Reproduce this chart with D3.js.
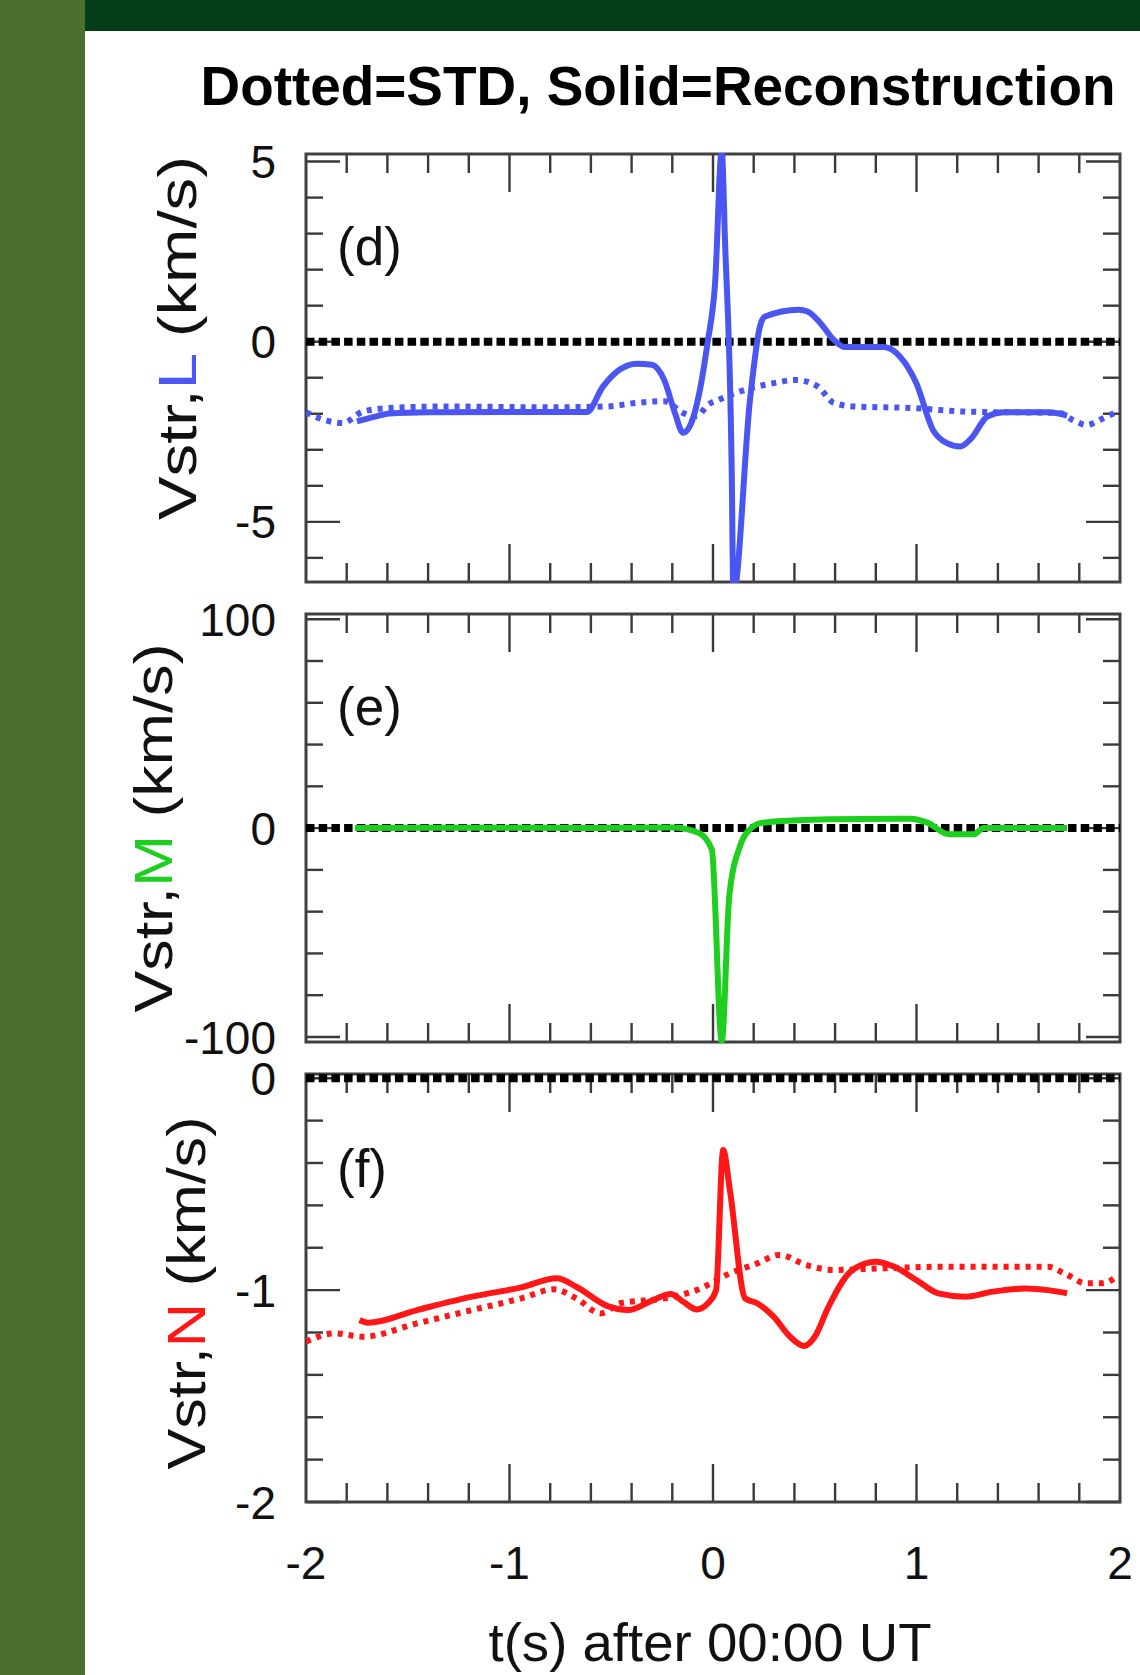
<!DOCTYPE html>
<html>
<head>
<meta charset="utf-8">
<script src="https://cdn.jsdelivr.net/npm/d3@7"></script>
<style>
  html, body { margin: 0; padding: 0; background: #ffffff; }
  svg { display: block; }
  text { font-family: "Liberation Sans", Arial, Helvetica, sans-serif; }
</style>
</head>
<body>
<svg id="chart" width="1140" height="1675"></svg>
<script>
// ---- data: time (s after 00:00 UT) and velocity samples ----
const timeTicksMajor = [-2, -1, 0, 1, 2];
const timeTickLabels = ["-2", "-1", "0", "1", "2"];

// Vstr,L (km/s): reconstruction (solid) and STD (dotted)
const vstrLRecon = [
  [-1.75, -2.21], [-1.66, -2.08], [-1.59, -1.99], [-1.40, -1.96], [-1.00, -1.95],
  [-0.62, -1.95], [-0.54, -1.24], [-0.46, -0.78], [-0.375, -0.61], [-0.30, -0.64],
  [-0.24, -1.06], [-0.187, -1.98], [-0.147, -2.53], [-0.11, -2.3], [-0.07, -1.5],
  [-0.026, 0.0], [0.01, 1.6], [0.043, 5.3], [0.059, 2.8], [0.092, -3.6],
  [0.10, -7.0], [0.182, -1.6], [0.231, 0.43], [0.256, 0.70],
  [0.42, 0.89], [0.465, 0.84], [0.527, 0.52], [0.594, 0.05], [0.648, -0.15],
  [0.837, -0.15], [0.918, -0.41], [0.999, -1.15], [1.08, -2.44], [1.147, -2.81],
  [1.215, -2.91], [1.268, -2.69], [1.35, -2.07], [1.43, -1.96], [1.646, -1.96],
  [1.74, -2.05]
];
const vstrLStd = [
  [-2.0, -1.96], [-1.91, -2.17], [-1.82, -2.26], [-1.72, -1.94], [-1.59, -1.84],
  [-1.32, -1.80], [-0.80, -1.82], [-0.53, -1.80], [-0.375, -1.70], [-0.24, -1.65],
  [-0.147, -1.98], [-0.08, -2.07], [-0.025, -1.75], [0.028, -1.61], [0.16, -1.33],
  [0.298, -1.15], [0.406, -1.06], [0.514, -1.24], [0.594, -1.70], [0.703, -1.80],
  [0.972, -1.84], [1.24, -1.94], [1.70, -1.98], [1.78, -2.21], [1.835, -2.31],
  [1.915, -2.13], [2.0, -1.90]
];

// Vstr,M (km/s): reconstruction (solid)
const vstrMRecon = [
  [-1.76, 0.0], [-1.2, 0.2], [-0.6, 0.1], [-0.20, 0.3], [-0.072, -2.2],
  [-0.006, -10.2], [0.043, -102], [0.080, -32.5], [0.133, -8.6], [0.166, -2.2],
  [0.244, 2.6], [0.568, 4.2], [0.972, 4.5], [1.053, 2.6], [1.16, -3.0],
  [1.28, -3.0], [1.33, 0.0], [1.74, 0.0]
];

// Vstr,N (km/s): reconstruction (solid) and STD (dotted)
const vstrNRecon = [
  [-1.737, -1.141], [-1.696, -1.154], [-1.454, -1.094], [-1.184, -1.031], [-0.942, -0.987],
  [-0.767, -0.944], [-0.672, -0.984], [-0.511, -1.078], [-0.416, -1.094], [-0.295, -1.047],
  [-0.208, -1.018], [-0.146, -1.055], [-0.08, -1.091], [-0.025, -1.062], [0.015, -1.0],
  [0.05, -0.339], [0.083, -0.528], [0.158, -1.039], [0.217, -1.062], [0.298, -1.125],
  [0.379, -1.22], [0.447, -1.264], [0.50, -1.22], [0.568, -1.078], [0.676, -0.913],
  [0.797, -0.866], [0.891, -0.89], [0.999, -0.952], [1.107, -1.015], [1.242, -1.031],
  [1.376, -1.007], [1.538, -0.992], [1.646, -1.0], [1.74, -1.015]
];
const vstrNStd = [
  [-2.0, -1.243], [-1.858, -1.204], [-1.723, -1.22], [-1.454, -1.157], [-1.184, -1.094],
  [-0.942, -1.039], [-0.78, -0.996], [-0.672, -1.039], [-0.551, -1.11], [-0.457, -1.062],
  [-0.24, -1.039], [-0.08, -1.0], [0.083, -0.921], [0.217, -0.874], [0.325, -0.834],
  [0.46, -0.882], [0.594, -0.905], [0.837, -0.897], [1.107, -0.89], [1.646, -0.89],
  [1.727, -0.921], [1.835, -0.968], [1.915, -0.968], [1.983, -0.937]
];

// per-panel axis settings
const panelIds = ["d", "e", "f"];
const yDomains = [[-6.67, 5.21], [-102.4, 102.5], [-2.0, 0.02]];
const yTicksMajor = [[5, 0, -5], [100, 0, -100], [0, -1, -2]];
const yTickLabels = [["5", "0", "-5"], ["100", "0", "-100"], ["0", "-1", "-2"]];
const yTickMinorStep = [1, 20, 0.2];
const componentNames = ["L", "M", "N"];
const componentColors = ["#4b55f2", "#1fcf1f", "#ff1616"];

// ---- layout ----
const svg = d3.select("#chart");
const W = 1140, H = 1675;
const plotLeft = 306, plotRight = 1120;
const panelTops = [154, 614, 1074];
const panelHeight = 428;

// page framing
svg.append("rect").attr("x", 0).attr("y", 0).attr("width", W).attr("height", H).attr("fill", "#ffffff");
svg.append("rect").attr("x", 0).attr("y", 0).attr("width", 85).attr("height", H).attr("fill", "#4b6e31");
svg.append("rect").attr("x", 85).attr("y", 0).attr("width", W - 85).attr("height", 31).attr("fill", "#023f19");

svg.append("text")
  .attr("x", 658).attr("y", 105)
  .attr("text-anchor", "middle")
  .attr("font-size", 56).attr("font-weight", "bold")
  .attr("textLength", 915).attr("lengthAdjust", "spacingAndGlyphs")
  .attr("fill", "#000")
  .text("Dotted=STD, Solid=Reconstruction");

const x = d3.scaleLinear().domain([-2, 2]).range([plotLeft, plotRight]);

function stepTicks(lo, hi, step) {
  const out = [];
  const n = Math.round((hi - lo) / step);
  for (let i = 0; i <= n; i++) out.push(+(lo + i * step).toFixed(6));
  return out;
}
const xMinor = stepTicks(-2, 2, 0.2).filter(v => !timeTicksMajor.includes(v));

const tickColor = "#3a3a3a";
const seriesByPanel = [
  { recon: vstrLRecon, std: vstrLStd },
  { recon: vstrMRecon, std: null },
  { recon: vstrNRecon, std: vstrNStd }
];
const yLabelCenters = [338, 828, 1293];
const yLabelBaselines = [196, 172, 205];
const yLabelLengths = [364, 369, 353];
const panelLabelBaselines = [265, 725, 1187];

panelIds.forEach((id, i) => {
  const top = panelTops[i], bottom = top + panelHeight;
  const y = d3.scaleLinear().domain(yDomains[i]).range([bottom, top]);
  const g = svg.append("g");

  const clipId = "clip-" + id;
  svg.append("clipPath").attr("id", clipId)
    .append("rect").attr("x", plotLeft).attr("y", top - 1)
    .attr("width", plotRight - plotLeft).attr("height", panelHeight + 2);

  const [ylo, yhi] = yDomains[i];
  const step = yTickMinorStep[i];
  const yMinor = stepTicks(Math.ceil(ylo / step) * step, Math.floor(yhi / step) * step, step)
    .filter(v => !yTicksMajor[i].some(m => Math.abs(m - v) < 1e-6));

  // ticks pointing inward on all four sides
  const tickG = g.append("g").attr("stroke", tickColor).attr("stroke-width", 2.4);
  const xTicksAll = [
    ...xMinor.map(v => ({ v, len: 19 })),
    ...timeTicksMajor.filter(v => v > -2 && v < 2).map(v => ({ v, len: 38 }))
  ];
  tickG.selectAll(null).data(xTicksAll).join("line")
    .attr("x1", d => x(d.v)).attr("x2", d => x(d.v))
    .attr("y1", top).attr("y2", d => top + d.len);
  tickG.selectAll(null).data(xTicksAll).join("line")
    .attr("x1", d => x(d.v)).attr("x2", d => x(d.v))
    .attr("y1", bottom).attr("y2", d => bottom - d.len);
  const yTicksAll = [
    ...yMinor.map(v => ({ v, len: 17 })),
    ...yTicksMajor[i].map(v => ({ v, len: 34 }))
  ];
  tickG.selectAll(null).data(yTicksAll).join("line")
    .attr("x1", plotLeft).attr("x2", d => plotLeft + d.len)
    .attr("y1", d => y(d.v)).attr("y2", d => y(d.v));
  tickG.selectAll(null).data(yTicksAll).join("line")
    .attr("x1", plotRight).attr("x2", d => plotRight - d.len)
    .attr("y1", d => y(d.v)).attr("y2", d => y(d.v));

  // frame
  g.append("rect")
    .attr("x", plotLeft).attr("y", top)
    .attr("width", plotRight - plotLeft).attr("height", panelHeight)
    .attr("fill", "none").attr("stroke", "#404040").attr("stroke-width", 3);

  // y tick labels
  g.append("g").selectAll("text").data(yTicksMajor[i]).join("text")
    .attr("x", 276).attr("y", d => y(d)).attr("dy", "0.36em")
    .attr("text-anchor", "end").attr("font-size", 46).attr("fill", "#111")
    .text((d, k) => yTickLabels[i][k]);

  // rotated axis title with coloured component letter
  const lab = g.append("text")
    .attr("transform", `translate(${yLabelBaselines[i]},${yLabelCenters[i]}) rotate(-90)`)
    .attr("text-anchor", "middle").attr("font-size", 54).attr("fill", "#111")
    .attr("textLength", yLabelLengths[i]).attr("lengthAdjust", "spacingAndGlyphs");
  lab.append("tspan").text("Vstr,");
  lab.append("tspan").attr("fill", componentColors[i]).text(componentNames[i]);
  lab.append("tspan").text(" (km/s)");

  // panel tag
  g.append("text")
    .attr("x", 337).attr("y", panelLabelBaselines[i])
    .attr("font-size", 53).attr("fill", "#111")
    .text("(" + id + ")");

  const line = d3.line().x(d => x(d[0])).y(d => y(d[1])).curve(d3.curveMonotoneX);
  const plot = g.append("g").attr("clip-path", `url(#${clipId})`);

  const s = seriesByPanel[i];
  if (s.std) {
    plot.append("path").datum(s.std)
      .attr("d", line).attr("fill", "none")
      .attr("stroke", componentColors[i]).attr("stroke-width", 6)
      .attr("stroke-dasharray", "5,6");
  }
  // zero reference (dotted black)
  plot.append("path").datum([[-2, 0], [2, 0]])
    .attr("d", d3.line().x(d => x(d[0])).y(d => y(d[1])))
    .attr("stroke", "#000").attr("stroke-width", 8)
    .attr("stroke-dasharray", "8.5,4.2");
  plot.append("path").datum(s.recon)
    .attr("d", line).attr("fill", "none")
    .attr("stroke", componentColors[i]).attr("stroke-width", 6)
    .attr("stroke-linejoin", "round");
});

// x tick labels and title under the last panel
const lastBottom = panelTops[2] + panelHeight;
svg.append("g").selectAll("text").data(timeTicksMajor).join("text")
  .attr("x", d => x(d)).attr("y", lastBottom + 77)
  .attr("text-anchor", "middle").attr("font-size", 46).attr("fill", "#111")
  .text((d, k) => timeTickLabels[k]);

svg.append("text")
  .attr("x", 710).attr("y", 1661)
  .attr("text-anchor", "middle").attr("font-size", 54).attr("fill", "#111")
  .attr("textLength", 443).attr("lengthAdjust", "spacingAndGlyphs")
  .text("t(s) after 00:00 UT");
</script>
</body>
</html>
